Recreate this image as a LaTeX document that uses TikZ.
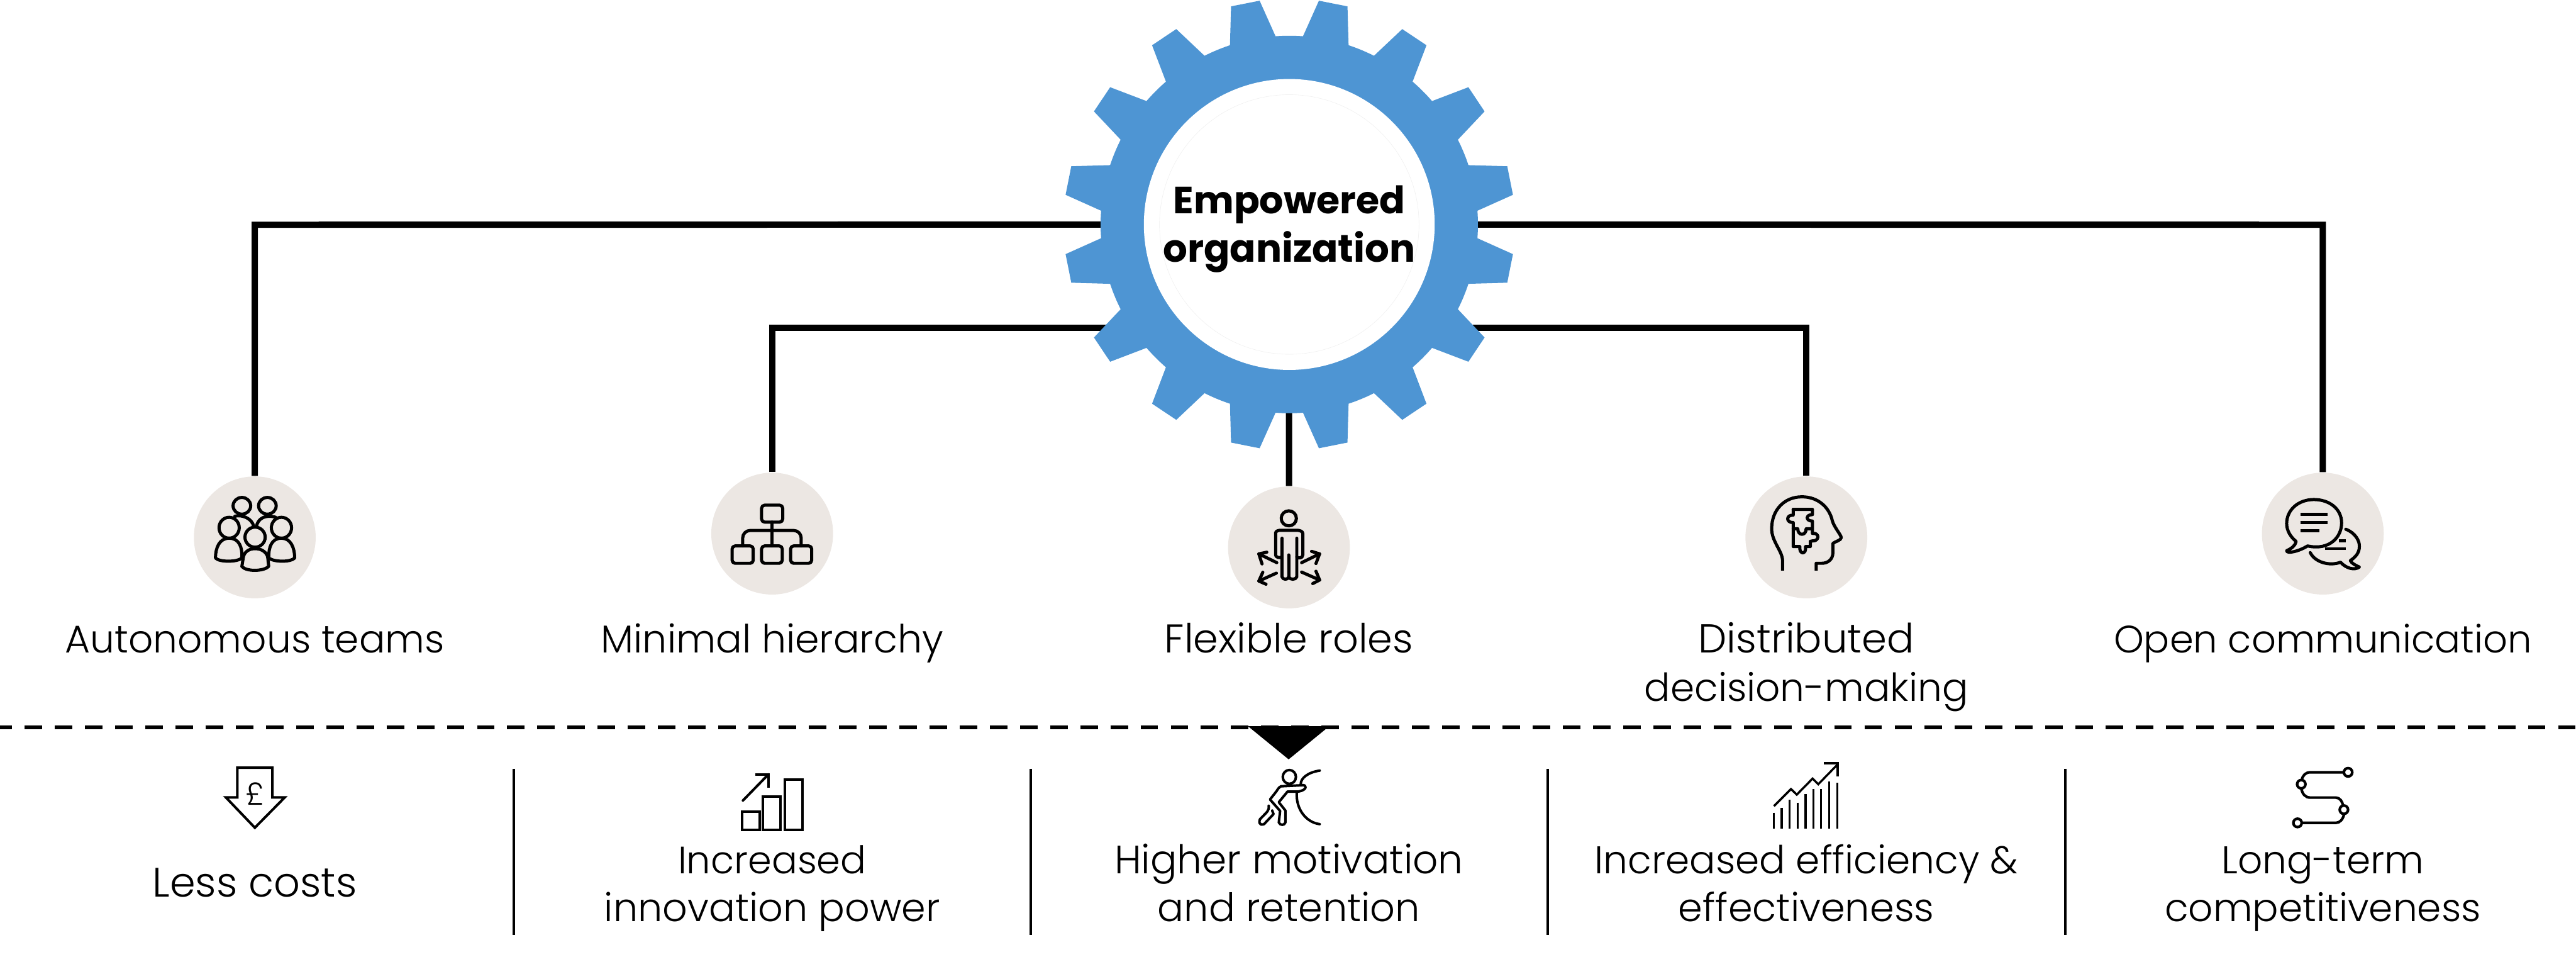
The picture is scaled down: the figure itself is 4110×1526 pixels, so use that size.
\documentclass[tikz,border=0pt]{standalone}
\usepackage{fontspec}
\setmainfont{Poppins}[UprightFont=* Light,BoldFont=* Bold]
\usetikzlibrary{calc}
\definecolor{gearblue}{HTML}{4E95D3}
\definecolor{disc}{HTML}{ECE7E3}
\tikzset{x=0.25pt,y=-0.25pt,
  wire/.style={line width=2.5pt,black},
  sep/.style={line width=1pt,black},
  disco/.style={circle,fill=disc,minimum size=48.6pt,inner sep=0pt},
  lab/.style={anchor=base,font=\fontsize{#1}{19}\selectfont,inner sep=0pt},
  lab/.default=15.4,
  ico/.style={line width=1.25pt,black,line cap=round,line join=round},
  icothin/.style={line width=1pt,black,line join=miter},
  zoomnarrow/.style 2 args={shift={(#1,#2)},xscale=0.3333,yscale=0.3333},
  zoomroles/.style={shift={(1900,740)},xscale=0.6378,yscale=0.3333},
  zoomlower/.style 2 args={shift={(#1,#2)},xscale=0.7015,yscale=0.3333}}
\begin{document}
\begin{tikzpicture}
\useasboundingbox (0,0) rectangle (4110,1526);
\coordinate (G) at (2057,358);
\node[disco] (d1) at (406.5,857) {};
\node[disco] (d2) at (1232,851) {};
\node[disco] (d3) at (2056.5,873) {};
\node[disco] (d4) at (2882,857) {};
\node[disco] (d5) at (3706,851) {};
\coordinate (j1) at (406.5,358.5);
\coordinate (j2) at (1232,522.5);
\coordinate (j4) at (2882,522.5);
\coordinate (j5) at (3706,358.5);
\draw[wire] (d1.north) -- (j1) -- (G);
\draw[wire] (d2.north) -- (j2) -- (G |- j2);
\draw[wire] (d3.north) -- (G);
\draw[wire] (d4.north) -- (j4) -- (G |- j4);
\draw[wire] (d5.north) -- (j5) -- (G);
% gear
\fill[gearblue] (G) circle[radius=301];
\foreach \a in {11.25,33.75,...,348.75}
  \fill[gearblue] ($(G)+(\a-7.5:295)$) -- ($(G)+(\a-3.7:360)$) -- ($(G)+(\a+3.7:360)$) -- ($(G)+(\a+7.5:295)$) -- cycle;
\node[circle,fill=white,minimum size=116pt,inner sep=0pt] (hub) at (G) {};
\draw[black!6,line width=0.15pt] (G) circle[radius=207];
\node[inner sep=0pt,anchor=base,font=\fontsize{15.1}{19}\bfseries\selectfont] (t1) at (2057,341) {Empowered};
\node[inner sep=0pt,anchor=base,font=\fontsize{15.3}{19}\bfseries\selectfont] (t2) at (2057,418) {organization};
% labels upper
\node[lab] (l1) at (406.5,1041) {Autonomous teams};
\node[lab=15.5] (l2) at (1232,1041) {Minimal hierarchy};
\node[lab=16] (l3) at (2056.5,1041) {Flexible roles};
\node[lab=16.1] (l4) at (2882,1041) {Distributed};
\node[lab] (l4b) at (2882,1118) {decision-making};
\node[lab=15.25] (l5) at (3706,1041) {Open communication};
% divider
\coordinate (dl) at (-8.8,1160);
\coordinate (dr) at (4110,1160);
\draw[line width=1.7pt,black,dash pattern=on 7pt off 5.03pt] (dl) -- (dr);
\fill[black] (1991,1158) -- (2121,1158) -- (2056,1211) -- cycle;
\foreach \x in {820,1645,2469,3295} \draw[sep] (\x,1226) -- (\x,1491);
% labels lower
\node[lab=16.4] (b1) at (406.5,1430) {Less costs};
\node[lab=15.2] (b2) at (1232,1393) {Increased};
\node[lab=15.55] (b2b) at (1232,1470) {innovation power};
\node[lab=15.8] (b3) at (2056.5,1393) {Higher motivation};
\node[lab=15.6] (b3b) at (2056.5,1470) {and retention};
\node[lab] (b4) at (2882,1393) {Increased efficiency \&};
\node[lab=15.6] (b4b) at (2882,1470) {effectiveness};
\node[lab] (b5) at (3706,1393) {Long-term};
\node[lab] (b5b) at (3706,1470) {competitiveness};
% team icon
\begin{scope}[zoomlower={280}{740},ico]
\draw (151,200) ellipse[x radius=20,y radius=40];
\draw (209,200) ellipse[x radius=20,y radius=40];
\draw (122,305) ellipse[x radius=23,y radius=50];
\draw (241,305) ellipse[x radius=23,y radius=50];
\draw (181,350) ellipse[x radius=23,y radius=48];
\draw (135,250) .. controls (150,240) and (175,260) .. (178,300);
\draw (184,300) .. controls (187,260) and (205,240) .. (228,255);
\draw (151,445) .. controls (152,400) and (145,355) .. (122,355) .. controls (100,355) and (91,400) .. (91,450) .. controls (100,470) and (140,470) .. (151,450);
\draw (212,445) .. controls (212,400) and (218,355) .. (241,355) .. controls (262,355) and (271,400) .. (271,450) .. controls (262,470) and (225,470) .. (212,450);
\draw (151,490) -- (154,450) .. controls (155,425) and (165,405) .. (181,405) .. controls (197,405) and (209,425) .. (210,450) -- (212,490) .. controls (200,515) and (160,515) .. (151,490);
\end{scope}
% hierarchy icon
\begin{scope}[zoomlower={280}{740},ico]
\draw[rounded corners=1.2pt] (1333,197) rectangle (1381,278);
\draw[rounded corners=1.2pt] (1266,392) rectangle (1314,475);
\draw[rounded corners=1.2pt] (1333,392) rectangle (1380,475);
\draw[rounded corners=1.2pt] (1399,392) rectangle (1447,475);
\draw (1357,278) -- (1357,392);
\draw[rounded corners=3pt] (1290,392) -- (1290,318) -- (1423,318) -- (1423,392);
\end{scope}
% roles icon
\begin{scope}[zoomroles,ico]
\draw (245,260) ellipse[x radius=19,y radius=36];
\draw (228,355) -- (228,445) .. controls (220,452) and (212,445) .. (212,435) -- (212,330) .. controls (212,320) and (220,317) .. (225,317) -- (265,317) .. controls (272,317) and (280,322) .. (280,332) -- (280,435) .. controls (280,452) and (268,452) .. (265,445) -- (265,355);
\draw (228,445) -- (228,540) .. controls (230,555) and (243,555) .. (245,540) -- (245,435);
\draw (245,540) .. controls (247,555) and (263,555) .. (265,540) -- (265,445);
\draw (215,472) -- (170,430);
\draw (190,422) -- (170,430) -- (178,478);
\draw (277,472) -- (322,430);
\draw (302,418) -- (322,430) -- (313,476);
\draw (214,522) -- (170,560);
\draw (180,518) -- (170,560) -- (188,575);
\draw (277,517) -- (322,555);
\draw (313,513) -- (322,555) -- (305,572);
\end{scope}
% head icon
\begin{scope}[zoomnarrow={2760}{750},ico]
\draw[line cap=butt] (252,480) -- (252,430) .. controls (250,385) and (200,340) .. (200,280) .. controls (200,190) and (260,127) .. (345,127) .. controls (420,127) and (475,175) .. (490,240) .. controls (497,270) and (533,310) .. (533,322) .. controls (533,335) and (505,340) .. (493,350) -- (493,395) .. controls (493,425) and (470,445) .. (440,445) -- (413,445) -- (413,480);
\draw (303,187) -- (395,187) -- (395,212) .. controls (362,212) and (362,243) .. (395,243) -- (395,302) .. controls (430,297) and (430,340) .. (395,338) -- (385,340) -- (385,365) -- (362,365) .. controls (368,405) and (330,405) .. (335,365) -- (303,365) -- (303,280) -- (325,280) .. controls (325,315) and (365,315) .. (365,280) -- (395,280);
\draw (303,187) -- (303,215) .. controls (268,212) and (268,252) .. (303,250) -- (303,280);
\end{scope}
% speech icon
\begin{scope}[zoomnarrow={3500}{740},ico]
\draw (545,392) .. controls (650,415) and (708,350) .. (708,282) .. controls (708,215) and (650,170) .. (575,170) .. controls (500,170) and (445,220) .. (445,285) .. controls (445,320) and (465,350) .. (490,370) .. controls (485,395) and (465,405) .. (445,415) .. controls (445,430) and (500,420) .. (545,392);
\draw[line cap=butt] (510,242) -- (640,242);
\draw[line cap=butt] (510,281) -- (640,281);
\draw[line cap=butt] (510,320) -- (602,320);
\draw (728,312) .. controls (775,330) and (795,370) .. (793,395) .. controls (793,425) and (775,445) .. (750,462) .. controls (755,475) and (775,485) .. (793,493) .. controls (770,510) and (730,500) .. (703,470) .. controls (650,490) and (580,470) .. (558,424);
\draw[line cap=butt] (695,368) -- (728,368);
\draw[line cap=butt] (630,405) -- (728,405);
\end{scope}
% pound arrow icon
\begin{scope}[zoomlower={300}{1130},icothin]
\draw (112,283) -- (192,283) -- (192,425) -- (220,425) -- (152,570) -- (86,425) -- (112,425) -- cycle;
\node[inner sep=0pt,font=\fontsize{12.5}{14}\selectfont] (pound) at (152,408) {£};
\end{scope}
% bars icon
\begin{scope}[zoomlower={300}{1130},icothin]
\draw (1260,492) rectangle (1300,582);
\draw (1308,422) rectangle (1348,582);
\draw (1357,340) rectangle (1397,582);
\draw[line cap=round] (1262,440) -- (1320,315);
\draw (1290,315) -- (1320,315) -- (1320,380);
\end{scope}
% climber icon
\begin{scope}[zoomlower={1900}{1130},icothin,line cap=round,line join=round]
\draw (224,327) ellipse[x radius=15,y radius=33];
\draw (293,297) .. controls (265,305) and (250,335) .. (250,360);
\draw (241,400) .. controls (238,480) and (262,545) .. (293,553);
\draw (252,367) -- (205,372) .. controls (200,375) and (195,395) .. (195,395) -- (180,435) -- (203,490) -- (200,545) .. controls (203,560) and (213,560) .. (215,545) -- (215,488) -- (200,448) -- (220,397) -- (245,397) .. controls (265,390) and (265,362) .. (252,367);
\draw (177,465) .. controls (178,490) and (175,490) .. (157,530) .. controls (152,560) and (165,562) .. (170,545) -- (188,505) -- (185,488);
\end{scope}
% chart icon
\begin{scope}[zoomlower={1900}{1130},line width=0.85pt,black]
\foreach \x/\y in {1326/498,1344/475,1362/435,1380/450,1398/410,1416/385,1433/385,1452/348,1470/355}
  \draw (\x,\y) -- (\x,575);
\draw (1326,467) -- (1365,385) -- (1378,412) -- (1414,335) -- (1427,362) -- (1472,265);
\draw (1440,262) -- (1471,262) -- (1471,325);
\end{scope}
% route icon
\begin{scope}[zoomnarrow={3500}{1130},line width=1.05pt,black]
\draw (739,305) circle[radius=20];
\draw (515,362) circle[radius=20];
\draw (719,484) circle[radius=20];
\draw (497,547) circle[radius=20];
\draw (719,305) -- (558,305) .. controls (535,305) and (522,320) .. (517,342);
\draw (515,382) .. controls (520,410) and (535,426) .. (558,426) -- (680,426) .. controls (700,426) and (712,445) .. (715,465);
\draw (720,504) .. controls (715,530) and (700,547) .. (680,547) -- (517,547);
\end{scope}
\end{tikzpicture}
\end{document}
